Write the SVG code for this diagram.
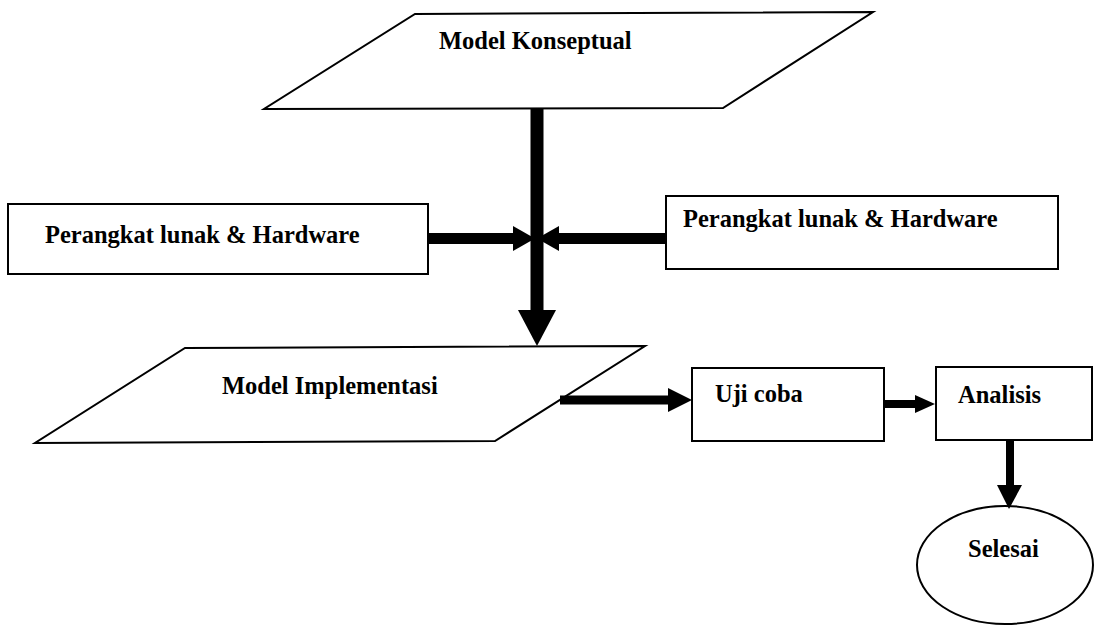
<svg xmlns="http://www.w3.org/2000/svg" width="1095" height="626" viewBox="0 0 1095 626">
<style>
.shape{fill:#fff;stroke:#000;stroke-width:2}
.lbl{font-family:"Liberation Serif","Times New Roman",serif;font-weight:bold;font-size:24.5px;fill:#000}
.shaft{stroke:#000;fill:none}
.head{fill:#000;stroke:none}
</style>
<rect width="1095" height="626" fill="#fff"/>
<g id="model-konseptual">
<polygon class="shape" points="415,14 873,12 723,108 264,109"/>
<text class="lbl" x="439" y="49">Model Konseptual</text>
</g>
<g id="perangkat-kiri">
<rect class="shape" x="8" y="204" width="420" height="70"/>
<text class="lbl" x="45" y="243">Perangkat lunak &amp; Hardware</text>
</g>
<g id="perangkat-kanan">
<rect class="shape" x="666" y="196" width="392" height="73"/>
<text class="lbl" x="683" y="227">Perangkat lunak &amp; Hardware</text>
</g>
<g id="model-implementasi">
<polygon class="shape" points="185,348 645,346 495,441 35,443"/>
<text class="lbl" x="222" y="394">Model Implementasi</text>
</g>
<g id="uji-coba">
<rect class="shape" x="692" y="368" width="192" height="73"/>
<text class="lbl" x="715" y="402">Uji coba</text>
</g>
<g id="analisis">
<rect class="shape" x="936" y="367" width="156" height="73"/>
<text class="lbl" x="958" y="403">Analisis</text>
</g>
<g id="selesai">
<ellipse class="shape" cx="1005" cy="565" rx="88" ry="59"/>
<text class="lbl" x="968" y="557">Selesai</text>
</g>
<g id="connectors">
<line class="shaft" x1="537" y1="108" x2="537" y2="312" stroke-width="13"/>
<polygon class="head" points="518,310 556,310 537,346"/>
<line class="shaft" x1="429" y1="238.5" x2="515" y2="238.5" stroke-width="11"/>
<polygon class="head" points="513,226 535,238.5 513,251"/>
<line class="shaft" x1="665" y1="238.5" x2="557" y2="238.5" stroke-width="11"/>
<polygon class="head" points="559,226 537,238.5 559,251"/>
<line class="shaft" x1="560" y1="400" x2="670" y2="400" stroke-width="9"/>
<polygon class="head" points="668,388 692,400 668,412"/>
<line class="shaft" x1="885" y1="404" x2="917" y2="404" stroke-width="8"/>
<polygon class="head" points="915,395 935,404 915,413"/>
<line class="shaft" x1="1010" y1="441" x2="1010" y2="487" stroke-width="8"/>
<polygon class="head" points="997,485 1022,485 1009,509"/>
</g>
</svg>
